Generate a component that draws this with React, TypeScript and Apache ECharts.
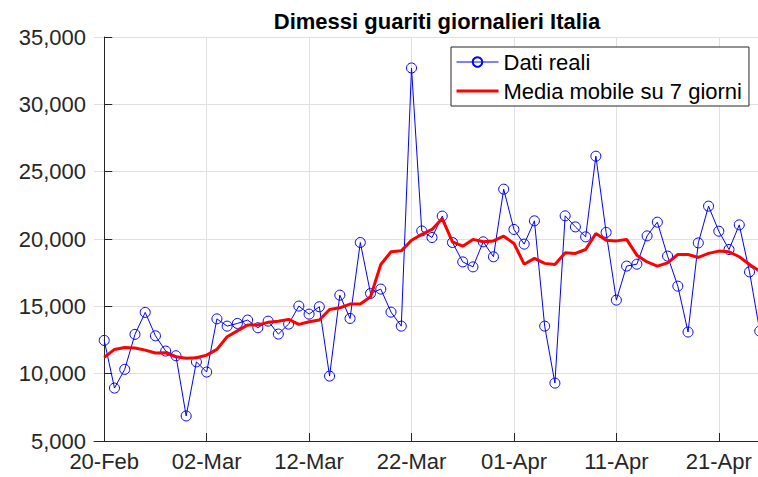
import React, { useEffect, useRef } from "react";
import * as echarts from "echarts";

// Day index 0 = 20-Feb
const tickDays = [0, 10, 20, 30, 40, 50, 60];
const tickLabels = ["20-Feb", "02-Mar", "12-Mar", "22-Mar", "01-Apr", "11-Apr", "21-Apr"];

const realValues = [
  12470, 8930, 10320, 12920, 14550, 12810, 11680, 11330, 6860, 10880,
  10120, 14070, 13530, 13730, 13980, 13410, 13900, 12940, 13680, 15020,
  14420, 14970, 9820, 15830, 14100, 19740, 15960, 16280, 14570, 13530,
  32700, 20600, 20110, 21700, 19740, 18300, 17930, 19790, 18680, 23700,
  20710, 19620, 21350, 13530, 9300, 21720, 20900, 20160, 26150, 20490,
  15460, 17990, 18130, 20230, 21250, 18730, 16500, 13090, 19710, 22440,
  20580, 19220, 21050, 17560, 13160,
];

const movingAvg = [
  11210, 11800, 11950, 11900, 11750, 11530, 11550, 11250, 11140, 11180,
  11380, 11800, 12740, 13180, 13610, 13610, 13810, 13900, 14030, 13660,
  13850, 13980, 14770, 14890, 15170, 15170, 15710, 18110, 19050, 19120,
  19910, 20340, 20710, 21520, 19790, 19470, 19970, 19790, 19860, 20210,
  19670, 18130, 18560, 18190, 18110, 18970, 18930, 19220, 20410, 19910,
  19860, 19970, 18800, 18300, 17990, 18230, 18850, 18850, 18630, 18930,
  19100, 19050, 18680, 18110, 17610,
];

const seriesNames = ["Dati reali", "Media mobile su 7 giorni"];
const titleText = "Dimessi guariti giornalieri Italia";

const FONT = "'Liberation Sans', Arial, Helvetica, sans-serif";
const AXIS_COLOR = "#262626";
const GRID_COLOR = "#e0e0e0";

export default function App() {
  const ref = useRef<HTMLDivElement>(null);
  useEffect(() => {
    const chart = echarts.init(ref.current!, null, { renderer: "svg" });
    chart.setOption({
      animation: false,
      backgroundColor: "#ffffff",
      title: {
        text: titleText,
        left: 432,
        top: 5,
        textAlign: "center",
        textStyle: { fontFamily: FONT, fontSize: 22, fontWeight: "bold", color: "#000" },
      },
      grid: { left: 94, top: 37, width: 676, height: 404, containLabel: false },
      legend: {
        orient: "vertical",
        left: 451,
        top: 47,
        itemWidth: 42,
        itemHeight: 12,
        itemGap: 7,
        padding: [4, 7, 4, 4],
        backgroundColor: "#ffffff",
        borderColor: AXIS_COLOR,
        borderWidth: 1,
        borderRadius: 0,
        textStyle: { fontFamily: FONT, fontSize: 22, color: "#000" },
        data: [
          { name: seriesNames[0], lineStyle: { width: 1 } },
          { name: seriesNames[1], itemStyle: { opacity: 0 }, lineStyle: { width: 3 } },
        ],
      },
      xAxis: {
        type: "value",
        min: -1,
        max: 65,
        axisLine: { show: true, onZero: false, lineStyle: { color: AXIS_COLOR, width: 1 } },
        axisTick: {
          show: true,
          inside: true,
          length: 8,
          customValues: tickDays,
          lineStyle: { color: AXIS_COLOR },
        },
        axisLabel: {
          customValues: tickDays,
          formatter: (v: number) => tickLabels[tickDays.indexOf(v)] ?? "",
          fontFamily: FONT,
          fontSize: 22,
          color: AXIS_COLOR,
          margin: 9,
        },
        splitLine: { show: true, lineStyle: { color: GRID_COLOR, width: 1 } },
      },
      yAxis: {
        type: "value",
        min: 5000,
        max: 35000,
        interval: 5000,
        axisLine: { show: true, lineStyle: { color: AXIS_COLOR, width: 1 } },
        axisTick: { show: true, inside: true, length: 8, lineStyle: { color: AXIS_COLOR } },
        axisLabel: {
          formatter: (v: number) => v.toLocaleString("en-US"),
          fontFamily: FONT,
          fontSize: 22,
          color: AXIS_COLOR,
          margin: 8,
        },
        splitLine: { show: true, lineStyle: { color: GRID_COLOR, width: 1 } },
      },
      series: [
        {
          name: seriesNames[0],
          type: "line",
          data: realValues.map((v, i) => [i, v]),
          symbol: "circle",
          symbolSize: 10,
          showAllSymbol: true,
          lineStyle: { color: "#0000ff", width: 1 },
          itemStyle: { color: "rgba(0,0,0,0)", borderColor: "#0000ff", borderWidth: 1 },
          emphasis: { disabled: true },
          z: 2,
        },
        {
          name: seriesNames[1],
          type: "line",
          data: movingAvg.map((v, i) => [i, v]),
          symbol: "none",
          lineStyle: { color: "#ff0000", width: 3 },
          itemStyle: { color: "#ff0000" },
          emphasis: { disabled: true },
          z: 3,
        },
      ],
    });
    return () => chart.dispose();
  }, []);
  return (
    <div
      style={{
        position: "fixed",
        left: 0,
        top: 0,
        width: 758,
        height: 477,
        overflow: "hidden",
        background: "#fff",
      }}
    >
      <div ref={ref} style={{ width: 780, height: 477 }} />
    </div>
  );
}
